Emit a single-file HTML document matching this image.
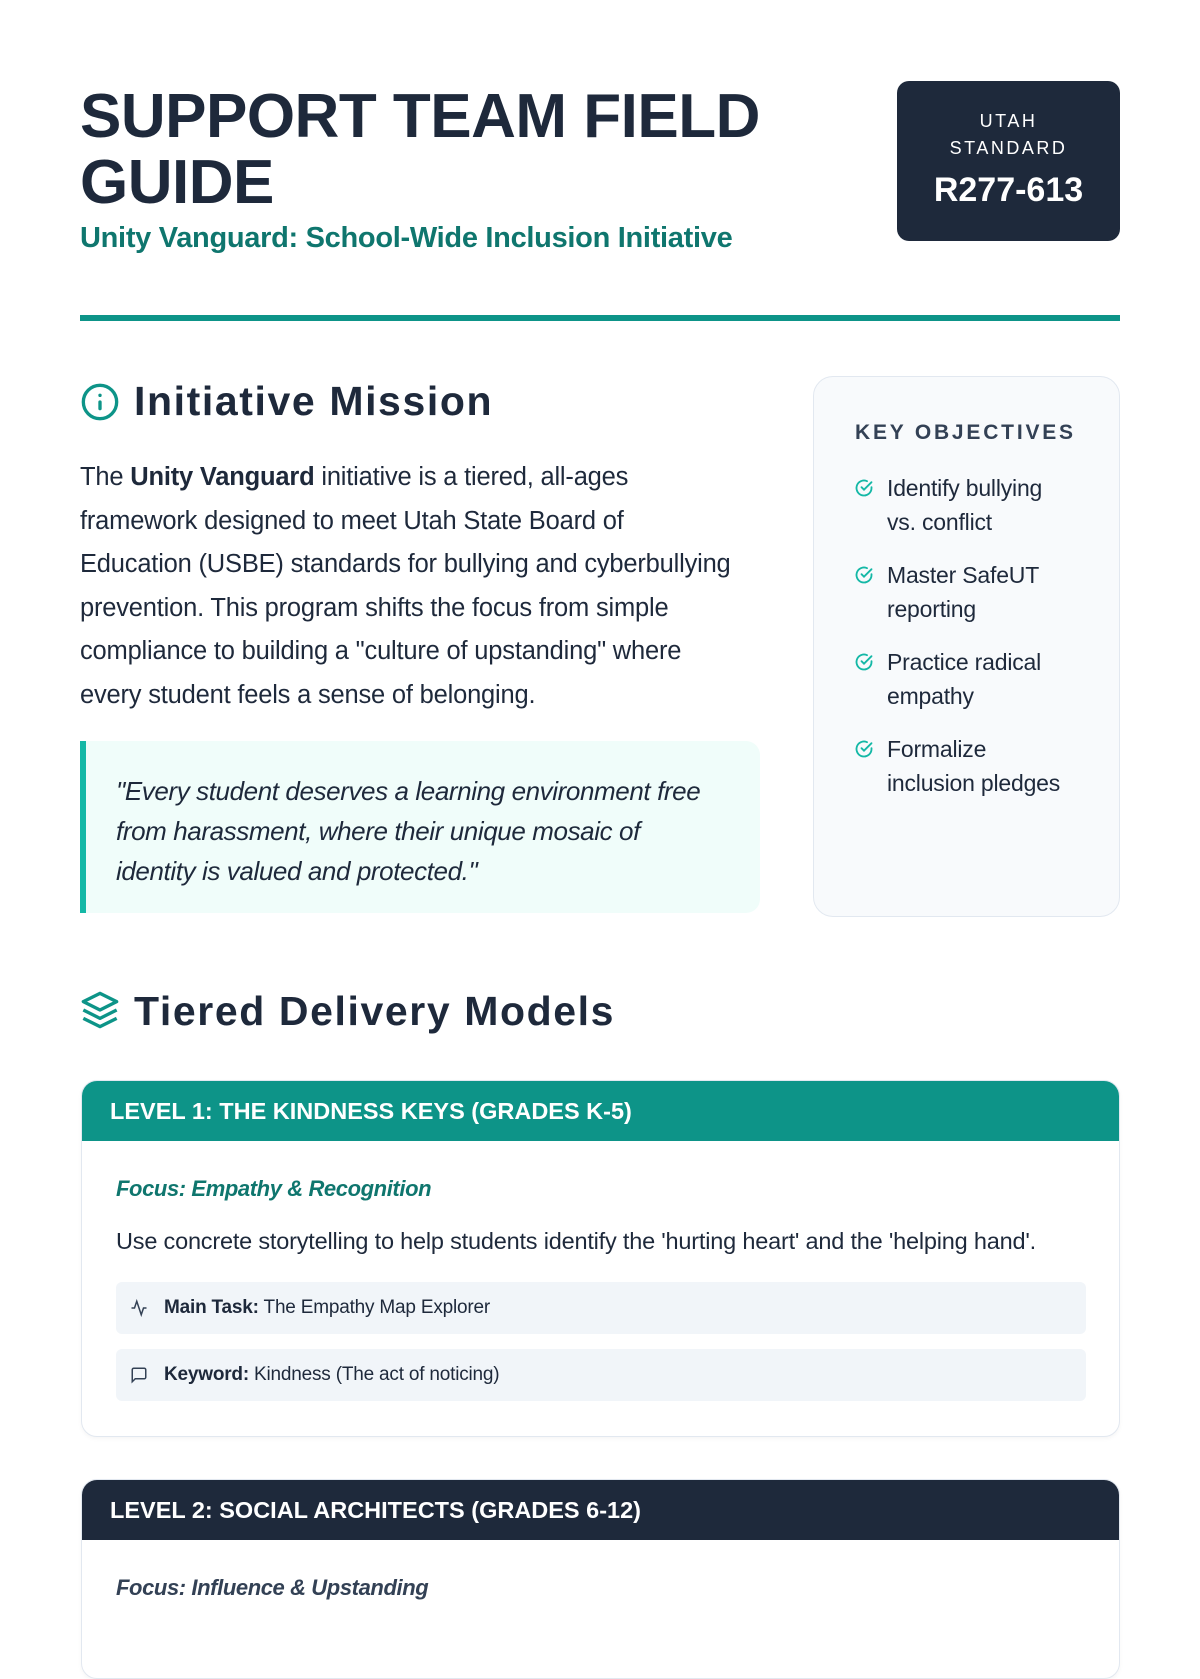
<!DOCTYPE html>
<html><head><meta charset="utf-8"><style>
*{margin:0;padding:0;box-sizing:border-box}
body{width:1200px;height:1600px;background:#fff;font-family:"Liberation Sans",sans-serif;color:#1e293b;position:relative;overflow:hidden}
.a{position:absolute}
h1{position:absolute;left:80px;top:84px;font-size:62px;line-height:66px;font-weight:bold;letter-spacing:-0.5px;color:#1e293b}
.sub{left:80px;top:222px;font-size:29px;color:#0f766e;font-weight:bold;letter-spacing:-0.3px}
.badge{left:897px;top:81px;width:223px;height:160px;background:#1e293b;border-radius:12px;color:#fff;text-align:center}
.rule{left:80px;top:315px;width:1040px;height:6px;background:#0d9488}
.h2{font-size:41px;font-weight:bold;color:#1e293b;letter-spacing:1.6px}
.p{left:80px;top:456px;font-size:25.5px;line-height:43.5px;color:#1e293b;width:720px;letter-spacing:-0.2px}
.quote{left:80px;top:741px;width:680px;height:172px;background:#f0fdfa;border-left:6px solid #14b8a6;border-radius:0 14px 14px 0;padding:30px 0 0 30px;font-style:italic;font-size:26px;line-height:40px;color:#1e293b;letter-spacing:-0.4px}
.side{left:813px;top:376px;width:307px;height:541px;background:#f8fafc;border:1px solid #e2e8f0;border-radius:20px}
.obj{font-size:23px;line-height:34px;color:#1e293b;letter-spacing:-0.2px}
.card{left:81px;width:1039px;border:1px solid #e2e8f0;border-radius:16px;overflow:hidden;background:#fff;box-shadow:0 2px 4px rgba(0,0,0,.04)}
.ch{height:60px;color:#fff;font-weight:bold;font-size:23.5px;line-height:60px;padding-left:28px}
.box{position:absolute;left:34px;width:970px;height:52px;background:#f1f5f9;border-radius:6px;font-size:19px;line-height:52px;padding-left:48px;letter-spacing:-0.2px}
</style></head><body>
<h1>SUPPORT TEAM FIELD<br>GUIDE</h1>
<div class="a sub">Unity Vanguard: School-Wide Inclusion Initiative</div>
<div class="a badge"><div style="margin-top:27px;font-size:18px;letter-spacing:2.5px;line-height:27px">UTAH<br>STANDARD</div><div style="margin-top:9px;font-size:34px;font-weight:bold">R277-613</div></div>
<div class="a rule"></div>

<svg class="a" style="left:80px;top:382px" width="40" height="40" viewBox="0 0 24 24" fill="none" stroke="#0d9488" stroke-width="2" stroke-linecap="round"><circle cx="12" cy="12" r="10"/><path d="M12 16v-4M12 8h.01"/></svg>
<div class="a h2" style="left:134px;top:378px">Initiative Mission</div>
<div class="a p">The <b>Unity Vanguard</b> initiative is a tiered, all-ages<br>framework designed to meet Utah State Board of<br>Education (USBE) standards for bullying and cyberbullying<br>prevention. This program shifts the focus from simple<br>compliance to building a "culture of upstanding" where<br>every student feels a sense of belonging.</div>
<div class="a quote">"Every student deserves a learning environment free<br>from harassment, where their unique mosaic of<br>identity is valued and protected."</div>

<div class="a side"></div>
<div class="a" style="left:855px;top:421px;font-size:21px;font-weight:bold;letter-spacing:2.8px;color:#334155">KEY OBJECTIVES</div>
<div class="a obj" style="left:887px;top:471px">Identify bullying<br>vs. conflict</div>
<div class="a obj" style="left:887px;top:558px">Master SafeUT<br>reporting</div>
<div class="a obj" style="left:887px;top:645px">Practice radical<br>empathy</div>
<div class="a obj" style="left:887px;top:732px">Formalize<br>inclusion pledges</div>
<svg class="a" style="left:854px;top:478px" width="20" height="20" viewBox="0 0 24 24" fill="none" stroke="#14b8a6" stroke-width="2.2" stroke-linecap="round"><path d="M21 11v1a9 9 0 1 1-5.3-8.2"/><path d="M9 11l3 3 9-9"/></svg>
<svg class="a" style="left:854px;top:565px" width="20" height="20" viewBox="0 0 24 24" fill="none" stroke="#14b8a6" stroke-width="2.2" stroke-linecap="round"><path d="M21 11v1a9 9 0 1 1-5.3-8.2"/><path d="M9 11l3 3 9-9"/></svg>
<svg class="a" style="left:854px;top:652px" width="20" height="20" viewBox="0 0 24 24" fill="none" stroke="#14b8a6" stroke-width="2.2" stroke-linecap="round"><path d="M21 11v1a9 9 0 1 1-5.3-8.2"/><path d="M9 11l3 3 9-9"/></svg>
<svg class="a" style="left:854px;top:739px" width="20" height="20" viewBox="0 0 24 24" fill="none" stroke="#14b8a6" stroke-width="2.2" stroke-linecap="round"><path d="M21 11v1a9 9 0 1 1-5.3-8.2"/><path d="M9 11l3 3 9-9"/></svg>

<svg class="a" style="left:80px;top:990px" width="40" height="40" viewBox="0 0 24 24" fill="none" stroke="#0d9488" stroke-width="2" stroke-linejoin="round"><path d="M12 2 2 7l10 5 10-5-10-5z"/><path d="M2 12l10 5 10-5"/><path d="M2 17l10 5 10-5"/></svg>
<div class="a h2" style="left:134px;top:988px">Tiered Delivery Models</div>

<div class="a card" style="top:1080px;height:357px">
<div class="ch" style="background:#0d9488">LEVEL 1: THE KINDNESS KEYS (GRADES K-5)</div>
<div class="a" style="left:34px;top:95px;font-style:italic;font-weight:bold;font-size:22px;color:#0f766e;letter-spacing:-0.4px">Focus: Empathy &amp; Recognition</div>
<div class="a" style="left:34px;top:147px;font-size:23.5px;color:#1e293b;letter-spacing:-0.2px">Use concrete storytelling to help students identify the 'hurting heart' and the 'helping hand'.</div>
<div class="box" style="top:201px"><svg class="a" style="left:14px;top:17px" width="18" height="18" viewBox="0 0 24 24" fill="none" stroke="#334155" stroke-width="2"><path d="M22 12h-4l-3 9L9 3l-3 9H2"/></svg><b>Main Task:</b> The Empathy Map Explorer</div>
<div class="box" style="top:268px"><svg class="a" style="left:14px;top:17px" width="18" height="18" viewBox="0 0 24 24" fill="none" stroke="#334155" stroke-width="2"><path d="M21 15a2 2 0 0 1-2 2H7l-4 4V5a2 2 0 0 1 2-2h14a2 2 0 0 1 2 2z"/></svg><b>Keyword:</b> Kindness (The act of noticing)</div>
</div>

<div class="a card" style="top:1479px;height:200px">
<div class="ch" style="background:#1e293b">LEVEL 2: SOCIAL ARCHITECTS (GRADES 6-12)</div>
<div class="a" style="left:34px;top:95px;font-style:italic;font-weight:bold;font-size:22px;color:#334155;letter-spacing:-0.4px">Focus: Influence &amp; Upstanding</div>
</div>
</body></html>
